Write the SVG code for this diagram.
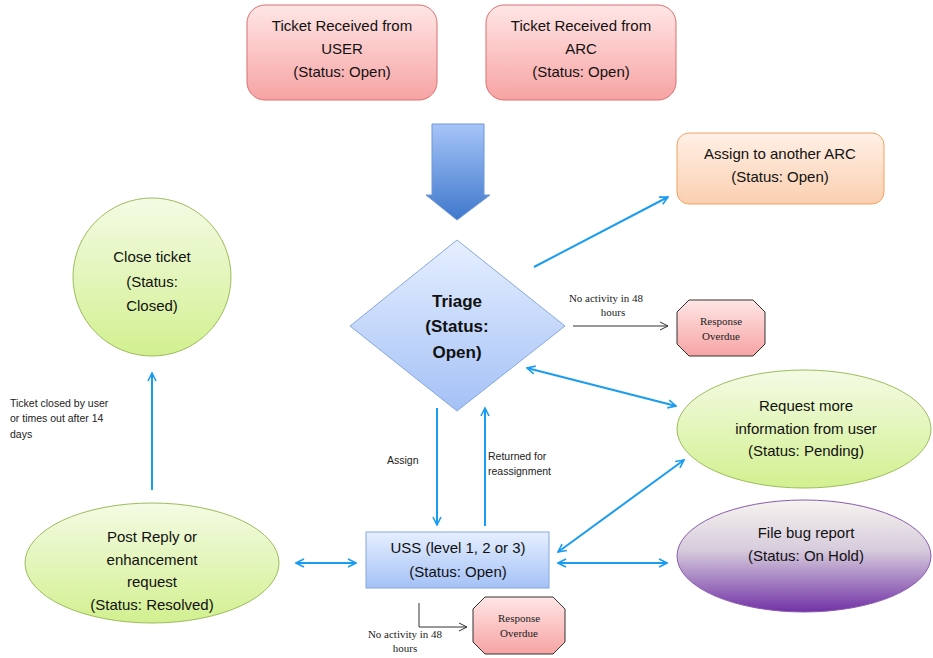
<svg xmlns="http://www.w3.org/2000/svg" width="933" height="658" viewBox="0 0 933 658">
<defs>
<linearGradient id="gRed" x1="0" y1="0" x2="0" y2="1"><stop offset="0" stop-color="#ffe6e6"/><stop offset="1" stop-color="#f7a3a3"/></linearGradient>
<linearGradient id="gOrange" x1="0" y1="0" x2="0" y2="1"><stop offset="0" stop-color="#fff0e6"/><stop offset="1" stop-color="#fbcfb0"/></linearGradient>
<linearGradient id="gGreen" x1="0" y1="0" x2="0" y2="1"><stop offset="0" stop-color="#f4fbe4"/><stop offset="1" stop-color="#d2f090"/></linearGradient>
<linearGradient id="gBlue" x1="0" y1="0" x2="0" y2="1"><stop offset="0" stop-color="#e6efff"/><stop offset="1" stop-color="#a4c1f6"/></linearGradient>
<linearGradient id="gArrow" x1="0" y1="0" x2="0" y2="1"><stop offset="0" stop-color="#a6c4f8"/><stop offset="1" stop-color="#3f78cc"/></linearGradient>
<linearGradient id="gPurple" x1="0" y1="0" x2="0" y2="1"><stop offset="0" stop-color="#f6f4ef"/><stop offset="0.45" stop-color="#d6cbdc"/><stop offset="1" stop-color="#7232a6"/></linearGradient>
<marker id="ab" viewBox="0 0 10 10" refX="9" refY="5" markerWidth="10" markerHeight="10" markerUnits="userSpaceOnUse" orient="auto-start-reverse"><path d="M1,1 L9,5 L1,9" fill="none" stroke="#1a9cf0" stroke-width="1.6"/></marker>
<marker id="ak" viewBox="0 0 10 10" refX="9" refY="5" markerWidth="10" markerHeight="10" markerUnits="userSpaceOnUse" orient="auto"><path d="M1,1 L9,5 L1,9" fill="none" stroke="#333" stroke-width="1"/></marker>
</defs>
<style>
.t{font-family:"Liberation Sans",Arial,sans-serif;font-size:15px;fill:#111;text-anchor:middle}
.tb{font-family:"Liberation Sans",Arial,sans-serif;font-size:17px;font-weight:bold;fill:#111;text-anchor:middle}
.s{font-family:"Liberation Sans",Arial,sans-serif;font-size:10.5px;fill:#222}
.sr{font-family:"Liberation Serif","Times New Roman",serif;font-size:11px;fill:#222;text-anchor:middle}
.bl{stroke:#1a9cf0;stroke-width:2;fill:none}
.bk{stroke:#333;stroke-width:1;fill:none}
</style>
<g id="connectors">
<path d="M432,124 H484 V195 H490 L457,220 L426,195 H432 Z" fill="url(#gArrow)" stroke="#6f97d6" stroke-width="1"/>
<line class="bl" x1="534" y1="267" x2="668" y2="197" marker-end="url(#ab)"/>
<line class="bk" x1="573" y1="326" x2="668" y2="326" marker-end="url(#ak)"/>
<line class="bl" x1="527" y1="368" x2="676" y2="406" marker-start="url(#ab)" marker-end="url(#ab)"/>
<line class="bl" x1="437" y1="408" x2="437" y2="525" marker-end="url(#ab)"/>
<line class="bl" x1="485" y1="526" x2="485" y2="408" marker-end="url(#ab)"/>
<line class="bl" x1="152" y1="490" x2="152" y2="373" marker-end="url(#ab)"/>
<line class="bl" x1="296" y1="563" x2="356" y2="563" marker-start="url(#ab)" marker-end="url(#ab)"/>
<line class="bl" x1="558" y1="552" x2="684" y2="460" marker-start="url(#ab)" marker-end="url(#ab)"/>
<line class="bl" x1="558" y1="563" x2="667" y2="563" marker-start="url(#ab)" marker-end="url(#ab)"/>
<polyline class="bk" points="419,603 419,627 467,627" marker-end="url(#ak)"/>
<text class="sr" x="606" y="302">No activity in 48</text>
<text class="sr" x="613" y="316">hours</text>
<text class="s" x="387" y="464">Assign</text>
<text class="s" x="488" y="460">Returned for</text>
<text class="s" x="488" y="475">reassignment</text>
<text class="s" x="10" y="407">Ticket closed by user</text>
<text class="s" x="10" y="422">or times out after 14</text>
<text class="s" x="10" y="438">days</text>
<text class="sr" x="405" y="638">No activity in 48</text>
<text class="sr" x="405" y="652">hours</text>
</g>
<g id="user">
<rect x="247" y="5" width="190" height="95" rx="18" fill="url(#gRed)" stroke="#d9706e"/>
<text class="t" x="342" y="31">Ticket Received from</text>
<text class="t" x="342" y="54">USER</text>
<text class="t" x="342" y="77">(Status: Open)</text>
</g>
<g id="arc">
<rect x="486" y="5" width="190" height="95" rx="18" fill="url(#gRed)" stroke="#d9706e"/>
<text class="t" x="581" y="31">Ticket Received from</text>
<text class="t" x="581" y="54">ARC</text>
<text class="t" x="581" y="77">(Status: Open)</text>
</g>
<g id="assignArc">
<rect x="677" y="133" width="207" height="71" rx="12" fill="url(#gOrange)" stroke="#f5a35f"/>
<text class="t" x="780" y="159">Assign to another ARC</text>
<text class="t" x="780" y="182">(Status: Open)</text>
</g>
<g id="triage">
<polygon points="457,240 565,326 457,411 350,326" fill="url(#gBlue)" stroke="#86a8dc"/>
<text class="tb" x="457" y="307">Triage</text>
<text class="tb" x="457" y="332">(Status:</text>
<text class="tb" x="457" y="358">Open)</text>
</g>
<g id="overdue1">
<polygon points="689,300 753,300 765,312 765,344 753,356 689,356 677,344 677,312" fill="url(#gRed)" stroke="#333"/>
<text class="sr" x="721" y="325">Response</text>
<text class="sr" x="721" y="340">Overdue</text>
</g>
<g id="closeTicket">
<circle cx="152" cy="277" r="79" fill="url(#gGreen)" stroke="#9cbc5c"/>
<text class="t" x="152" y="262">Close ticket</text>
<text class="t" x="152" y="287">(Status:</text>
<text class="t" x="152" y="311">Closed)</text>
</g>
<g id="requestInfo">
<ellipse cx="804" cy="429" rx="127" ry="59" fill="url(#gGreen)" stroke="#9cbc5c"/>
<text class="t" x="806" y="411">Request more</text>
<text class="t" x="806" y="434">information from user</text>
<text class="t" x="806" y="456">(Status: Pending)</text>
</g>
<g id="uss">
<rect x="366" y="532" width="183" height="56" fill="url(#gBlue)" stroke="#86a8dc"/>
<text class="t" x="458" y="553">USS (level 1, 2 or 3)</text>
<text class="t" x="458" y="577">(Status: Open)</text>
</g>
<g id="postReply">
<ellipse cx="152" cy="563" rx="127" ry="60" fill="url(#gGreen)" stroke="#9cbc5c"/>
<text class="t" x="152" y="542">Post Reply or</text>
<text class="t" x="152" y="565">enhancement</text>
<text class="t" x="152" y="587">request</text>
<text class="t" x="152" y="610">(Status: Resolved)</text>
</g>
<g id="fileBug">
<ellipse cx="804" cy="556" rx="127" ry="56" fill="url(#gPurple)" stroke="#8a5bb0"/>
<text class="t" x="806" y="538">File bug report</text>
<text class="t" x="806" y="561">(Status: On Hold)</text>
</g>
<g id="overdue2">
<polygon points="485,597 553,597 565,609 565,642 553,654 485,654 473,642 473,609" fill="url(#gRed)" stroke="#333"/>
<text class="sr" x="519" y="622">Response</text>
<text class="sr" x="519" y="637">Overdue</text>
</g>
</svg>
